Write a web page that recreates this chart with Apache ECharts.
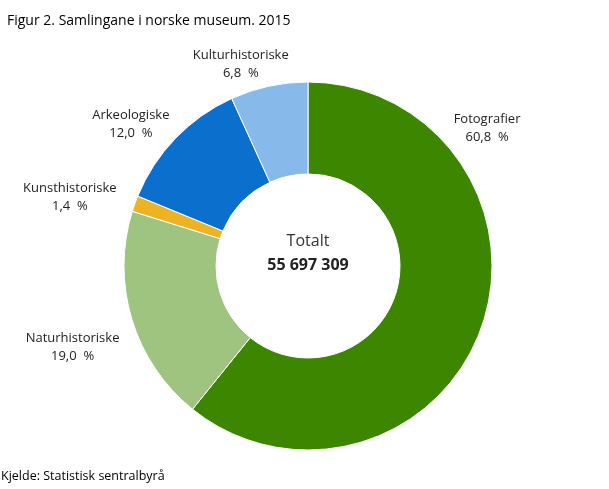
<!DOCTYPE html>
<html>
<head>
<meta charset="utf-8">
<script src="https://cdn.jsdelivr.net/npm/echarts@6/dist/echarts.min.js"></script>
<style>
  html, body { margin: 0; padding: 0; background: #fff; }
  #chart { width: 609px; height: 489px; }
</style>
</head>
<body>
<div id="chart"></div>
<script>
// data (shares in percent, clockwise from 12 o'clock)
const categories = ['Fotografier', 'Naturhistoriske', 'Kunsthistoriske', 'Arkeologiske', 'Kulturhistoriske'];
const shares = [60.8, 19.0, 1.4, 12.0, 6.8];
const total = '55 697 309';
const colors = ['#3d8700', '#9ec480', '#eeb323', '#0b70cd', '#87baea'];

// label placement: angle (degrees clockwise from top) and distance of
// the label centre from the donut centre
const labelAngle = [52.4, 251, 286.2, 308.7, 341.6];
const labelDist = [226, 249, 248, 227, 213];

const cx = 308, cy = 266;

const chart = echarts.init(document.getElementById('chart'));

chart.setOption({
  animation: false,
  title: {
    text: 'Figur 2. Samlingane i norske museum. 2015',
    left: 2,
    top: 9,
    textStyle: { fontFamily: 'Open Sans', fontSize: 14, fontWeight: 'normal', color: '#000' }
  },
  graphic: [
    {
      type: 'text', left: 1, top: 470,
      style: { text: 'Kjelde: Statistisk sentralbyrå', font: '12.5px "Open Sans"', fill: '#000' }
    },
    {
      type: 'text', x: cx, y: 241,
      style: { text: 'Totalt', font: '16px "Open Sans"', fill: '#333', align: 'center', verticalAlign: 'middle' }
    },
    {
      type: 'text', x: cx, y: 265,
      style: { text: total, font: 'bold 16px "Open Sans"', fill: '#222', align: 'center', verticalAlign: 'middle' }
    }
  ],
  series: [{
    type: 'pie',
    center: [cx, cy],
    radius: [92, 184],
    startAngle: 90,
    clockwise: true,
    avoidLabelOverlap: false,
    itemStyle: { borderColor: '#fff', borderWidth: 1 },
    emphasis: { disabled: true },
    label: {
      position: 'outside',
      fontFamily: 'Open Sans',
      fontSize: 13,
      color: '#222',
      lineHeight: 18,
      formatter: p => p.name + '\n' + p.value.toFixed(1).replace('.', ',') + '  %'
    },
    labelLine: { show: false },
    labelLayout: params => {
      const i = params.dataIndex;
      const a = labelAngle[i] * Math.PI / 180;
      return {
        x: cx + labelDist[i] * Math.sin(a),
        y: cy - labelDist[i] * Math.cos(a),
        align: 'center',
        verticalAlign: 'middle'
      };
    },
    data: categories.map((name, i) => ({
      name: name,
      value: shares[i],
      itemStyle: { color: colors[i] }
    }))
  }]
});
</script>
</body>
</html>
